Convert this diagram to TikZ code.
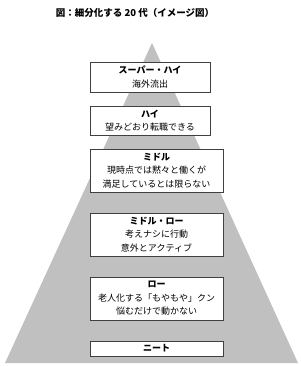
\documentclass[tikz,border=0pt]{standalone}
\usepackage{fontspec}
\setmainfont{Noto Sans CJK JP}
\usepackage{tikz}

\definecolor{pyramidgray}{RGB}{192,192,192}
\definecolor{boxedge}{RGB}{64,64,64}

\begin{document}
\begin{tikzpicture}[x=1pt,y=-1pt,
    tierbox/.style={draw=boxedge, line width=0.7pt, fill=white, align=center,
        inner sep=0pt, font=\fontsize{9}{13.5}\selectfont},
    widebox/.style={tierbox, minimum width=133pt},
    narrowbox/.style={tierbox, minimum width=120pt}]
    \useasboundingbox (0,0) rectangle (300,366);

    % Title
    \node[font=\fontsize{9.5}{12}\selectfont\bfseries] (title) at (135,13)
        {図：細分化する 20 代（イメージ図）};

    % Pyramid
    \fill[pyramidgray] (152,43) -- (298,363) -- (5,363) -- cycle;

    % Tiers, top to bottom
    \node[narrowbox, minimum height=30pt] (superhigh) at (150,77)
        {\textbf{スーパー・ハイ}\\海外流出};
    \node[narrowbox, minimum height=29pt] (high) at (150,120.5)
        {\textbf{ハイ}\\望みどおり転職できる};
    \node[widebox, minimum height=43pt] (middle) at (156.5,170.5)
        {\textbf{ミドル}\\現時点では黙々と働くが\\満足しているとは限らない};
    \node[widebox, minimum height=43pt] (middlelow) at (156.5,234.5)
        {\textbf{ミドル・ロー}\\考えナシに行動\\意外とアクティブ};
    \node[widebox, minimum height=43pt] (low) at (156.5,298.5)
        {\textbf{ロー}\\老人化する「もやもや」クン\\悩むだけで動かない};
    \node[widebox, minimum height=15pt] (neet) at (156.5,348.5)
        {\textbf{ニート}};

\end{tikzpicture}
\end{document}
